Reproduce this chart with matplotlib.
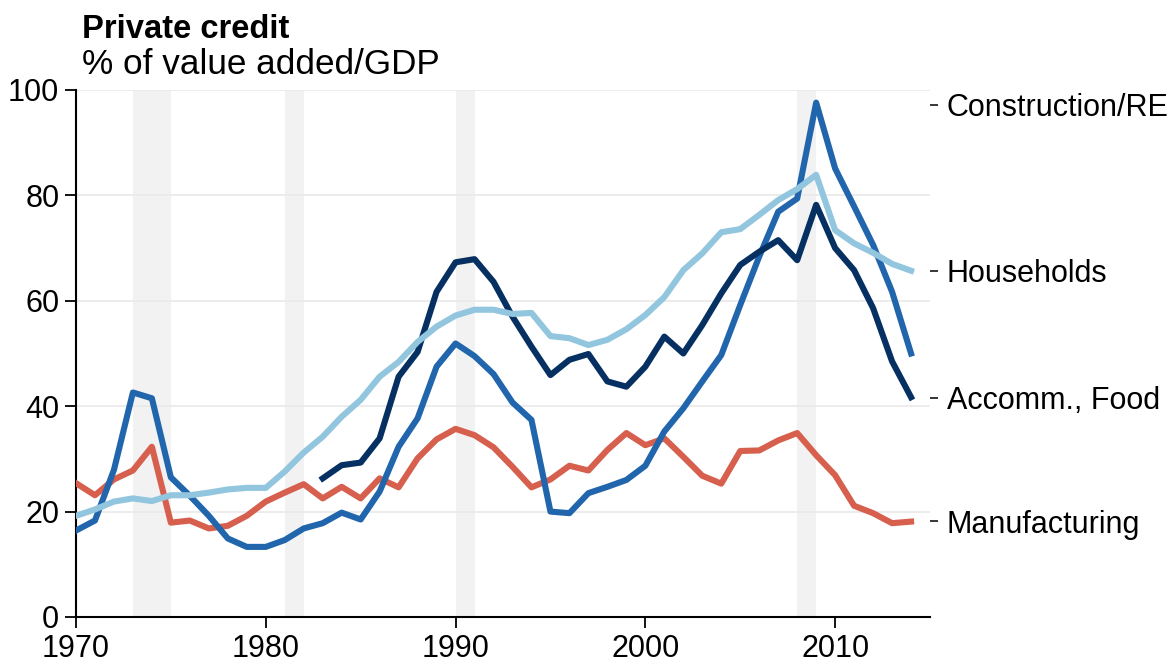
import numpy as np
import matplotlib.pyplot as plt

plt.rcParams['font.family'] = ['Liberation Sans', 'DejaVu Sans']

# data (percent of value added / GDP)
years = list(range(1970, 2015))

construction = [16.4, 18.3, 27.9, 42.6, 41.5, 26.5, 23.0, 19.2, 14.9, 13.3,
                13.3, 14.6, 16.8, 17.8, 19.8, 18.5, 23.8, 32.3, 37.7, 47.5,
                51.9, 49.5, 46.1, 40.7, 37.4, 20.0, 19.7, 23.5, 24.7, 26.0,
                28.7, 35.2, 39.6, 44.7, 49.7, 59.2, 68.4, 76.9, 79.4, 97.6,
                85.1, 77.9, 70.6, 61.7, 50.0]

households = [19.2, 20.4, 21.9, 22.5, 22.0, 23.1, 23.1, 23.6, 24.2, 24.5,
              24.5, 27.6, 31.2, 34.2, 38.0, 41.2, 45.6, 48.4, 52.2, 55.1,
              57.2, 58.3, 58.3, 57.5, 57.7, 53.3, 52.9, 51.6, 52.6, 54.6,
              57.3, 60.7, 65.8, 69.0, 73.0, 73.6, 76.3, 79.1, 81.2, 83.9,
              73.4, 70.9, 69.1, 67.0, 65.7]

accomm = [np.nan] * 13 + [26.3, 28.8, 29.3, 33.9, 45.6, 50.3, 61.7,
                          67.3, 67.9, 63.6, 57.0, 51.3, 45.9, 48.8, 49.9, 44.7, 43.7,
                          47.5, 53.2, 50.0, 55.4, 61.4, 66.8, 69.3, 71.5, 67.7, 78.2,
                          70.0, 65.8, 58.6, 48.5, 41.7]

manufacturing = [25.4, 23.1, 26.1, 27.8, 32.3, 17.9, 18.3, 16.8, 17.3, 19.2,
                 21.9, 23.6, 25.2, 22.5, 24.7, 22.5, 26.3, 24.6, 30.1, 33.7,
                 35.7, 34.5, 32.2, 28.5, 24.6, 26.1, 28.7, 27.8, 31.7, 34.9,
                 32.6, 33.9, 30.4, 26.8, 25.3, 31.5, 31.6, 33.5, 34.9, 30.7,
                 26.9, 21.1, 19.7, 17.8, 18.1]

recessions = [(1973, 1975), (1981, 1982), (1990, 1991), (2008, 2009)]

label_names = ["Construction/RE", "Households", "Accomm., Food", "Manufacturing"]
label_pos = [97.2, 65.7, 41.6, 18.2]

colors = {
    "construction": "#2166ac",
    "households": "#92c5de",
    "accomm": "#053061",
    "manufacturing": "#d6604d",
}

fig = plt.figure(figsize=(11.74, 6.65), dpi=100)
ax = fig.add_axes([0.0647, 0.0722, 0.7275, 0.7925])

for start, end in recessions:
    ax.axvspan(start, end, color="#f2f2f2", lw=0, zorder=0)

for y in [20, 40, 60, 80, 100]:
    ax.axhline(y, color="#ebebeb", lw=1.3, zorder=0.5)

lw = 4.4
ax.plot(years, manufacturing, color=colors["manufacturing"], lw=lw, zorder=3)
ax.plot(years, construction, color=colors["construction"], lw=lw, zorder=4)
ax.plot(years, accomm, color=colors["accomm"], lw=lw, zorder=5)
ax.plot(years, households, color=colors["households"], lw=lw, zorder=6)

ax.set_xlim(1970, 2015)
ax.set_ylim(0, 100)
ax.set_xticks([1970, 1980, 1990, 2000, 2010])
ax.set_yticks([0, 20, 40, 60, 80, 100])
ax.tick_params(labelsize=22, length=8, width=1.3, color="black")
ax.tick_params(axis="y", pad=4)
ax.tick_params(axis="x", pad=4.5)
for s in ["top", "right"]:
    ax.spines[s].set_visible(False)
for s in ["left", "bottom"]:
    ax.spines[s].set_linewidth(1.5)

# labels on the right
ax2 = ax.twinx()
ax2.set_ylim(0, 100)
ax2.set_yticks(label_pos)
ax2.set_yticklabels(label_names)
ax2.tick_params(labelsize=22, length=6, width=1.1, pad=6)
for s in ax2.spines.values():
    s.set_visible(False)

fig.text(0.0698, 0.9424, "Private credit", fontsize=23.6, fontweight="bold", va="baseline")
fig.text(0.0698, 0.8887, "% of value added/GDP", fontsize=25.3, va="baseline")

plt.savefig("out.png", dpi=100)
